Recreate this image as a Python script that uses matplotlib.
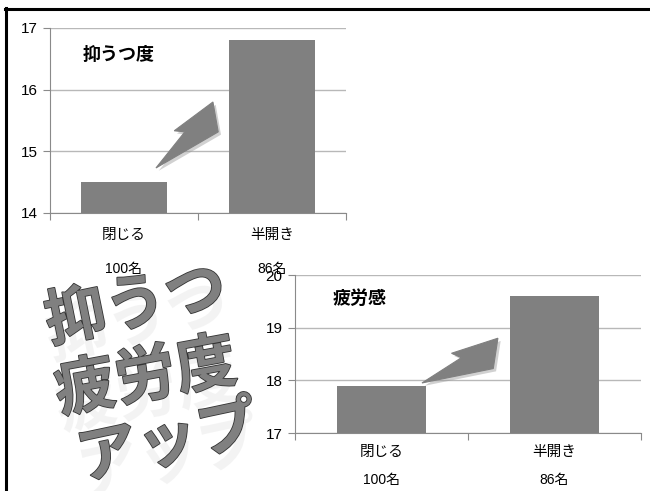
import matplotlib
matplotlib.use("Agg")
import numpy as np
import matplotlib.pyplot as plt
import matplotlib.patheffects as pe
from matplotlib.lines import Line2D
from matplotlib.patches import Polygon

plt.rcParams['font.family'] = ['Liberation Sans', 'Noto Sans CJK JP']

# Data
groups = ['閉じる', '半開き']
counts = ['100名', '86名']
depression = [14.5, 16.8]
fatigue = [17.9, 19.6]
depression_ticks = [14, 15, 16, 17]
fatigue_ticks = [17, 18, 19, 20]
banner = ['抑うつ', '疲労度', 'アップ']

bar_color = '#808080'
spine_color = '#8a8a8a'
grid_color = '#b8b8b8'

# one-sided swoosh arrow, (along, across) as fractions of tail->tip length
swoosh = [(0, 0), (0.78, -0.27), (1, 0), (0.46, 0.12), (0.53, 0.02)]

fig = plt.figure(figsize=(6.5, 4.91), dpi=100)


def add_swoosh(ax, tail, tip):
    p0, p1 = ax.transData.transform([tail, tip])
    d = p1 - p0
    n = np.array([-d[1], d[0]])
    pts = [p0 + a * d + b * n for a, b in swoosh]
    pts = ax.transData.inverted().transform(pts)
    poly = Polygon(pts, closed=True, facecolor=bar_color, edgecolor=bar_color, linewidth=0.8,
                   zorder=3,
                   path_effects=[pe.withSimplePatchShadow(offset=(2, -2), shadow_rgbFace='#999999',
                                                          alpha=0.45)])
    ax.add_patch(poly)


def bar_panel(rect, values, ticks, title, width, tail, tip):
    ax = fig.add_axes(rect)
    ax.set_facecolor('none')
    x = range(len(values))
    ax.bar(x, values, width=width, color=bar_color, zorder=2)
    ax.set_xlim(-0.5, len(values) - 0.5)
    ax.set_ylim(ticks[0], ticks[-1])
    ax.set_yticks(ticks)
    ax.tick_params(axis='y', labelsize=11, length=5, color=spine_color, pad=4)
    # category boundaries get the tick marks, names sit under the bars
    ax.set_xticks([-0.5, 0.5, 1.5])
    ax.set_xticklabels([])
    ax.tick_params(axis='x', length=5, color=spine_color)
    ax.yaxis.grid(True, color=grid_color, linewidth=1, zorder=0)
    ax.set_axisbelow(True)
    for s in ['top', 'right']:
        ax.spines[s].set_visible(False)
    for s in ['left', 'bottom']:
        ax.spines[s].set_color(spine_color)
    trans = ax.get_xaxis_transform()
    for i, (g, c) in enumerate(zip(groups, counts)):
        ax.text(i, -0.12, g, transform=trans, ha='center', va='center', fontsize=10.5)
        ax.text(i, -0.30, c, transform=trans, ha='center', va='center', fontsize=10)
    ax.text(0.11, 0.85, title, transform=ax.transAxes,
            fontsize=13, fontweight='bold', ha='left', va='center')
    add_swoosh(ax, tail, tip)
    return ax


bar_panel([0.0769, 0.5662, 0.4554, 0.3768], depression, depression_ticks, '抑うつ度',
          0.58, (0.216, 14.73), (0.601, 15.80))
bar_panel([0.4538, 0.1181, 0.5323, 0.3218], fatigue, fatigue_ticks, '疲労感',
          0.51, (0.234, 17.95), (0.673, 18.80))

# Slanted banner lettering with a faint reflection underneath
banner_pos = [(136, 306, 11.5), (146, 378, 10.5), (168, 443, 12)]
for text, (px, py, rot) in zip(banner, banner_pos):
    fig.text(px / 650, 1 - py / 491, text, fontsize=44, fontweight='bold',
             family='Noto Sans CJK JP', color=bar_color, ha='center', va='center',
             rotation=rot, rotation_mode='anchor', zorder=5,
             path_effects=[pe.SimplePatchShadow(offset=(1, -12), shadow_rgbFace='#e6e6e6', alpha=0.45),
                           pe.withStroke(linewidth=1.2, foreground='#333333')])

# Frame along top and left edges
fig.add_artist(Line2D([5 / 650, 1], [1 - 8.5 / 491, 1 - 8.5 / 491], color='black', linewidth=2.2,
                      transform=fig.transFigure))
fig.add_artist(Line2D([5.5 / 650, 5.5 / 650], [0, 1 - 7.5 / 491], color='black', linewidth=2.2,
                      transform=fig.transFigure))

fig.savefig('out.png', dpi=100)
